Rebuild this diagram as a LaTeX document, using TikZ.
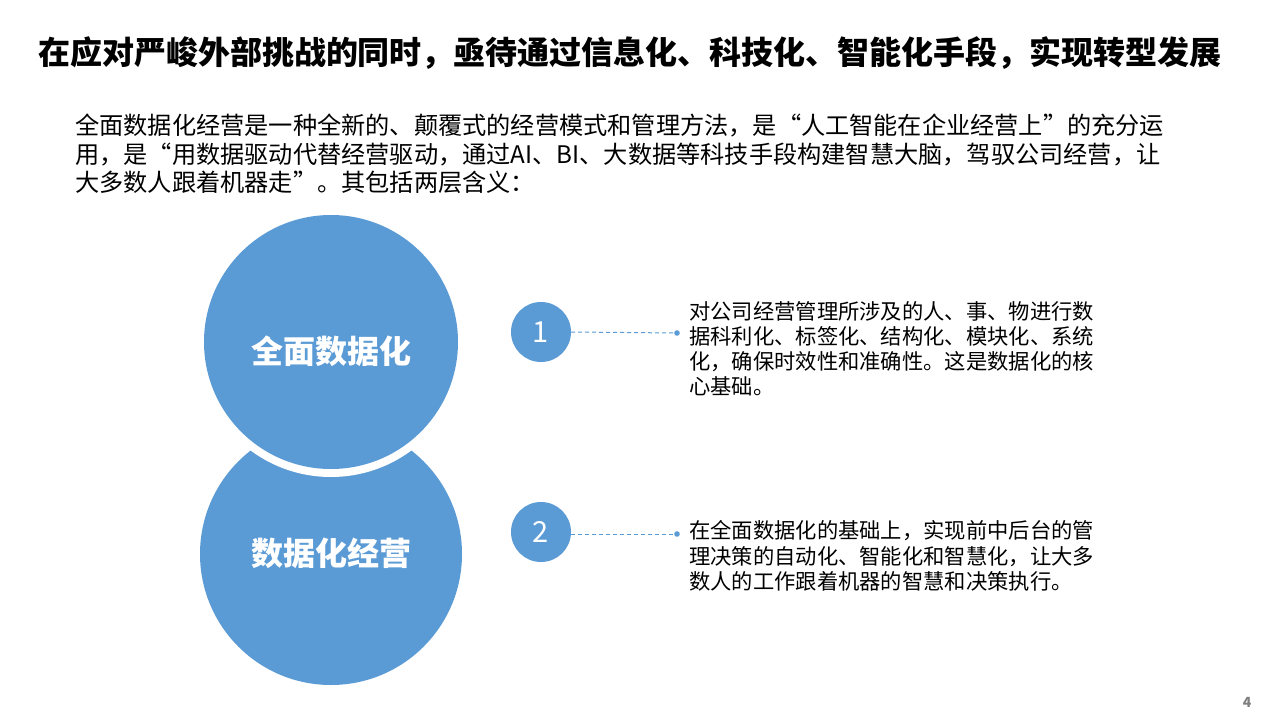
\documentclass[tikz,border=0pt]{standalone}
\usepackage{fontspec}
\setmainfont{Noto Sans CJK SC}
\definecolor{accent}{HTML}{5B9BD5}
\definecolor{pgnum}{HTML}{7F7F7F}
\tikzset{
  titletext/.style={anchor=base, inner sep=0pt, font=\fontsize{32}{36}\selectfont\bfseries},
  paratext/.style={anchor=base west, inner sep=0pt, font=\fontsize{24.2}{29}\selectfont},
  bigcircle/.style={circle, fill=accent, inner sep=0pt},
  bigtext/.style={anchor=base, inner sep=0pt, text=white, font=\fontsize{32}{36}\selectfont\bfseries},
  numcircle/.style={circle, fill=accent, minimum size=60pt, inner sep=0pt},
  numtext/.style={anchor=base, inner sep=0pt, text=white, font=\fontsize{29}{32}\selectfont},
  dashline/.style={accent, line width=1pt, dash pattern=on 4pt off 3pt},
  desctext/.style={anchor=base west, inner sep=0pt, font=\fontsize{21.3}{25}\selectfont},
}
\begin{document}
\begin{tikzpicture}[x=1pt, y=-1pt]
\useasboundingbox (0,0) rectangle (1280,720);
\fill[white] (0,0) rectangle (1280,720);

% title
\node[titletext] (title) at (630,64) {在应对严峻外部挑战的同时，亟待通过信息化、科技化、智能化手段，实现转型发展};

% paragraph
\node[paratext] (p1) at (75,134) {全面数据化经营是一种全新的、颠覆式的经营模式和管理方法，是“人工智能在企业经营上”的充分运};
\node[paratext] (p2) at (75,163) {用，是“用数据驱动代替经营驱动，通过AI、BI、大数据等科技手段构建智慧大脑，驾驭公司经营，让};
\node[paratext] (p3) at (75,191) {大多数人跟着机器走”。其包括两层含义：};

% big circles
\node[bigcircle, minimum size=262pt] (c2) at (331,554) {};
\node[circle, fill=white, minimum size=270pt, inner sep=0pt] (c1ring) at (331,342) {};
\node[bigcircle, minimum size=254pt] (c1) at (331,342) {};
\node[bigtext] (c1t) at (331,363) {全面数据化};
\node[bigtext] (c2t) at (331,565) {数据化经营};

% numbered markers
\node[numcircle] (n1) at (541,332) {};
\node[numtext] (n1t) at (541,342) {1};
\node[numcircle] (n2) at (541,532) {};
\node[numtext] (n2t) at (541,542) {2};

\coordinate (d1) at (677,333);
\coordinate (d2) at (677,534);
\draw[dashline] (n1.east) -- (d1);
\draw[dashline] (n2.east |- d2) -- (d2);
\fill[accent] (d1) circle (2.8pt);
\fill[accent] (d2) circle (2.8pt);

% descriptions
\node[desctext] (a1) at (689,319) {对公司经营管理所涉及的人、事、物进行数};
\node[desctext] (a2) at (689,344) {据科利化、标签化、结构化、模块化、系统};
\node[desctext] (a3) at (689,369) {化，确保时效性和准确性。这是数据化的核};
\node[desctext] (a4) at (689,394) {心基础。};

\node[desctext] (b1) at (689,538) {在全面数据化的基础上，实现前中后台的管};
\node[desctext] (b2) at (689,564) {理决策的自动化、智能化和智慧化，让大多};
\node[desctext] (b3) at (689,589) {数人的工作跟着机器的智慧和决策执行。};

% page number
\node[anchor=base, inner sep=0pt, text=pgnum, font=\fontsize{14}{16}\selectfont\bfseries] (pg) at (1247,707) {4};
\end{tikzpicture}
\end{document}
